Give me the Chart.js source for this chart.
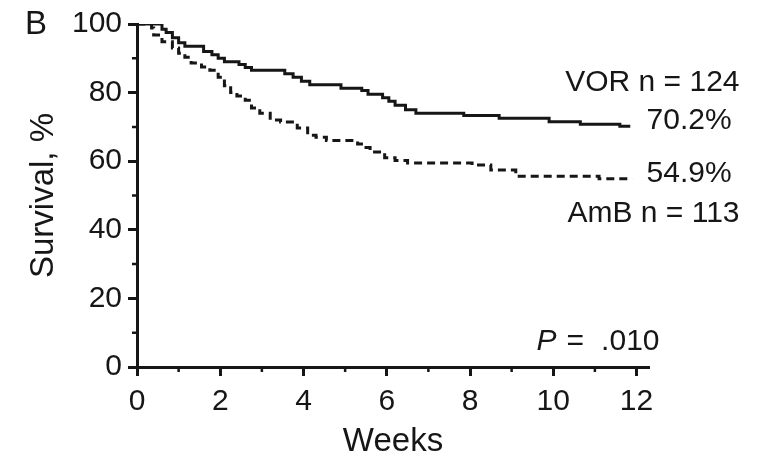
<!DOCTYPE html>
<html>
<head>
<meta charset="utf-8">
<script src="https://cdn.jsdelivr.net/npm/chart.js@4.4.1/dist/chart.umd.min.js"></script>
<style>
  html, body { margin: 0; padding: 0; background: #fff; }
  #wrap { width: 765px; height: 456px; }
</style>
</head>
<body>
<div id="wrap"><canvas id="km-chart" width="765" height="456"></canvas></div>
<script>
(function () {
  'use strict';

  // Kaplan-Meier steps: week of the drop, survival % after it
  const vorWeeks = [0, 0.6, 0.7, 0.85, 1.0, 1.15, 1.6, 1.8, 1.95, 2.1, 2.45, 2.6, 2.75, 3.55, 3.75, 3.95,
    4.15, 4.9, 5.4, 5.55, 5.9, 6.05, 6.2, 6.45, 6.7, 7.85, 8.7, 9.9, 10.65, 11.6, 11.75, 11.85];
  const vorSurvival = [100, 100, 98.5, 97.5, 96, 94.5, 93.5, 92, 91, 90, 89, 88.2, 87.3, 86.5, 85.5, 84.5,
    83.3, 82.3, 81.3, 80.6, 79.5, 78.5, 77.5, 76.3, 75, 74, 73.3, 72.5, 71.5, 70.8, 70.2, 70.2];

  const ambWeeks = [0, 0.35, 0.4, 0.6, 0.85, 1.0, 1.15, 1.3, 1.55, 1.75, 1.95, 2.1, 2.25, 2.4, 2.6, 2.75,
    2.95, 3.2, 3.45, 3.85, 4.1, 4.3, 4.55, 5.3, 5.45, 5.6, 5.95, 6.2, 6.5, 8.05, 8.5, 9.1, 11.1, 11.75, 11.9];
  const ambSurvival = [100, 100, 98.8, 96.8, 94.8, 93, 91.5, 90.3, 88.6, 87.5, 86.5, 84.5, 82, 80, 79, 77.8,
    75.5, 74, 72, 71.4, 69.7, 67.6, 67, 66, 65, 64, 62.7, 61, 60.2, 59.5, 58.9, 57.4, 55.6, 54.9, 54.9];

  const xMajorTicks = [0, 2, 4, 6, 8, 10, 12];
  const xMinorTicks = [1, 3, 5, 7, 9, 11];
  const yMajorTicks = [0, 20, 40, 60, 80, 100];
  const yMinorTicks = [10, 30, 50, 70, 90];

  const groupLabels = ['VOR n = 124', 'AmB n = 113'];
  const endLabels = ['70.2%', '54.9%'];
  const pValue = '.010';
  const panelLetter = 'B';

  const ink = '#161616';
  const fontFamily = '"Liberation Sans", Arial, Helvetica, sans-serif';

  const toPoints = (xs, ys) => xs.map((v, i) => ({ x: v, y: ys[i] }));

  const annotations = {
    id: 'annotations',
    afterDraw(chart) {
      const { ctx } = chart;
      const x = chart.scales.x;
      const y = chart.scales.y;
      ctx.save();

      // minor ticks
      ctx.strokeStyle = ink;
      ctx.lineWidth = 2.5;
      ctx.beginPath();
      xMinorTicks.forEach(function (v) {
        const px = x.getPixelForValue(v);
        ctx.moveTo(px, y.bottom);
        ctx.lineTo(px, y.bottom + 5);
      });
      yMinorTicks.forEach(function (v) {
        const py = y.getPixelForValue(v);
        ctx.moveTo(x.left, py);
        ctx.lineTo(x.left - 5, py);
      });
      ctx.stroke();

      ctx.fillStyle = ink;
      ctx.font = '30px ' + fontFamily;
      ctx.textBaseline = 'middle';
      const xEnd = x.getPixelForValue(12);

      ctx.textAlign = 'right';
      ctx.fillText(groupLabels[0], xEnd + 103, y.getPixelForValue(82.8));
      ctx.fillText(groupLabels[1], xEnd + 103, y.getPixelForValue(44.6));

      ctx.textAlign = 'left';
      ctx.fillText(endLabels[0], xEnd + 10, y.getPixelForValue(71.7));
      ctx.fillText(endLabels[1], xEnd + 10, y.getPixelForValue(56.3));

      // P value, italic P
      ctx.textBaseline = 'alphabetic';
      const pY = y.getPixelForValue(0) - 17;
      ctx.textAlign = 'right';
      ctx.fillText(pValue, xEnd + 23, pY);
      ctx.textAlign = 'left';
      ctx.fillText('=', xEnd - 70, pY);
      ctx.font = 'italic 30px ' + fontFamily;
      ctx.fillText('P', xEnd - 100, pY);

      ctx.textBaseline = 'middle';
      ctx.font = '33px ' + fontFamily;
      ctx.fillText(panelLetter, 25, y.getPixelForValue(100) + 1);

      ctx.restore();
    }
  };

  const canvas = document.getElementById('km-chart');
  new Chart(canvas, {
    type: 'line',
    data: {
      datasets: [
        {
          label: 'VOR',
          data: toPoints(vorWeeks, vorSurvival),
          borderColor: ink,
          borderWidth: 3,
          stepped: 'after',
          pointRadius: 0,
          fill: false
        },
        {
          label: 'AmB',
          data: toPoints(ambWeeks, ambSurvival),
          borderColor: ink,
          borderWidth: 3,
          borderDash: [8, 5],
          stepped: 'after',
          pointRadius: 0,
          fill: false
        }
      ]
    },
    options: {
      responsive: false,
      animation: false,
      layout: {
        padding: { left: 0, top: 24, right: 116, bottom: 0 }
      },
      plugins: {
        legend: { display: false },
        tooltip: { enabled: false }
      },
      scales: {
        x: {
          type: 'linear',
          min: 0,
          max: 12.3,
          afterFit: function (scale) { scale.height = 89; },
          afterBuildTicks: function (scale) {
            scale.ticks = xMajorTicks.map(function (v) { return { value: v }; });
          },
          grid: {
            drawOnChartArea: false,
            drawTicks: true,
            tickLength: 9,
            tickWidth: 3,
            tickColor: ink
          },
          border: { display: true, color: ink, width: 3 },
          ticks: {
            color: ink,
            padding: 8,
            maxRotation: 0,
            font: { family: fontFamily, size: 30 }
          },
          title: {
            display: true,
            text: 'Weeks',
            color: ink,
            padding: { top: 0, bottom: 0 },
            font: { family: fontFamily, size: 33, lineHeight: 0.85 }
          }
        },
        y: {
          min: 0,
          max: 100,
          afterFit: function (scale) { scale.width = 137; },
          afterBuildTicks: function (scale) {
            scale.ticks = yMajorTicks.map(function (v) { return { value: v }; });
          },
          grid: {
            drawOnChartArea: false,
            drawTicks: true,
            tickLength: 9,
            tickWidth: 3,
            tickColor: ink
          },
          border: { display: true, color: ink, width: 3 },
          ticks: {
            color: ink,
            padding: 6,
            font: { family: fontFamily, size: 30 }
          },
          title: {
            display: true,
            text: 'Survival, %',
            color: ink,
            padding: { top: 30, bottom: 0 },
            font: { family: fontFamily, size: 33, lineHeight: 0.85 }
          }
        }
      }
    },
    plugins: [annotations]
  });
})();
</script>
</body>
</html>
